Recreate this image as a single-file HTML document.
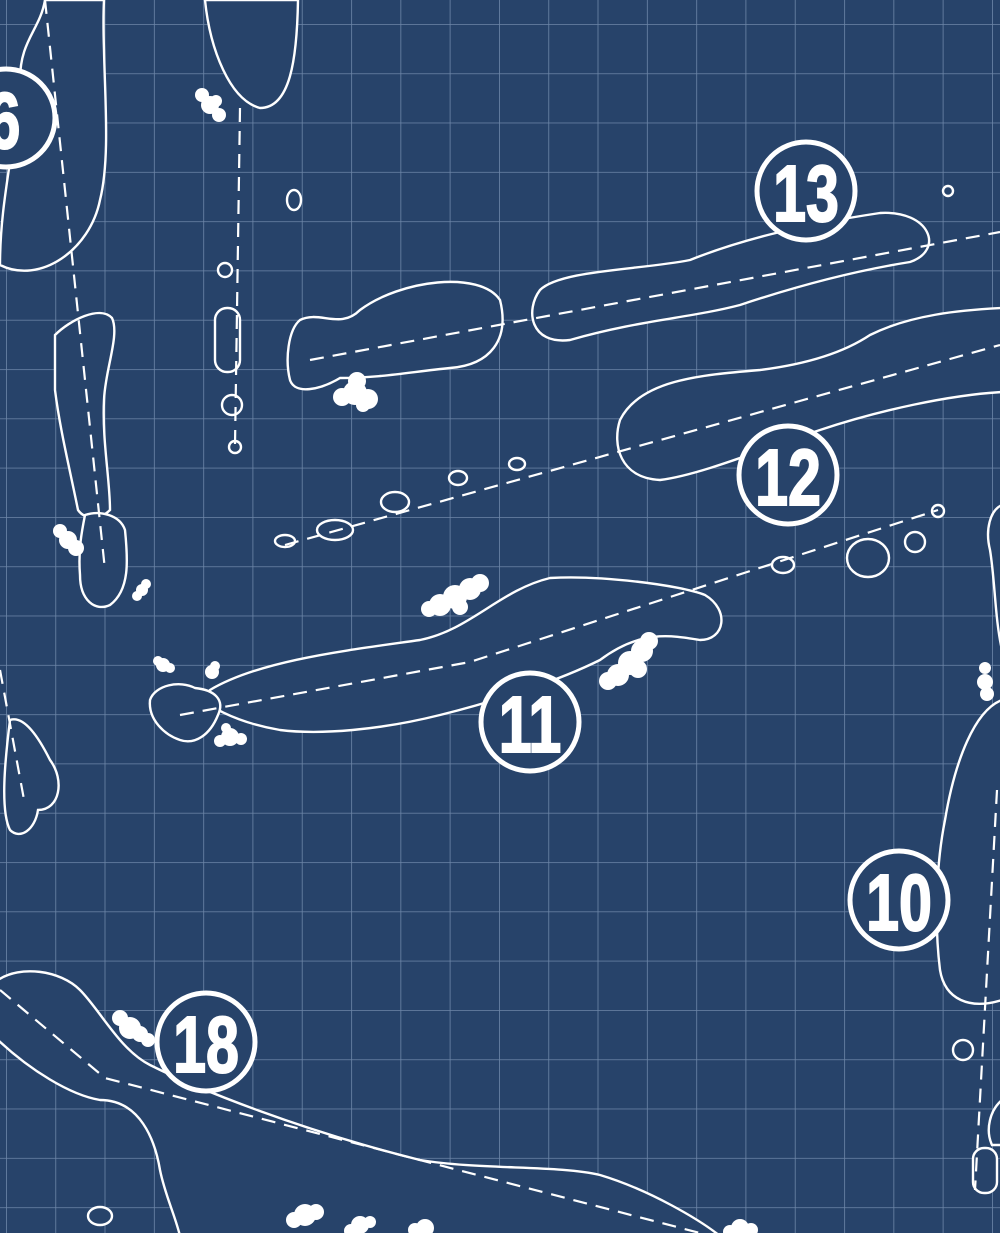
<!DOCTYPE html>
<html><head><meta charset="utf-8"><style>
html,body{margin:0;padding:0;background:#27436a;}
svg{display:block}
.num{font-family:"Liberation Sans",sans-serif;font-weight:bold;fill:#fff;stroke:#fff;stroke-width:2;}
</style></head><body>
<svg width="1000" height="1233" viewBox="0 0 1000 1233" xmlns="http://www.w3.org/2000/svg">
<defs>
<pattern id="g" x="6" y="24" width="49.3" height="49.3" patternUnits="userSpaceOnUse">
<path d="M0 0H49.3M0 0V49.3" stroke="#6d86a8" stroke-width="1.6" fill="none"/>
</pattern>
</defs>
<rect width="1000" height="1233" fill="#27436a"/>
<rect width="1000" height="1233" fill="url(#g)"/>

<g fill="#27436a" stroke="#fff" stroke-width="2.4">
<path d="M45,0 C40,30 20,40 20,80 C15,150 0,200 0,265 C40,285 90,250 100,200 C110,160 105,100 104,50 C103,20 104,0 104,0 Z"/>
<path d="M55,335 C70,320 100,305 112,318 C120,335 105,370 104,400 C102,440 110,480 110,510 C100,520 85,520 78,510 C70,470 60,430 55,390 Z"/>
<path d="M85,515 C100,510 120,515 125,530 C128,560 130,590 110,605 C95,612 80,600 80,575 C78,550 82,530 85,515 Z"/>
<path d="M205,0 C210,50 230,100 260,108 C290,108 297,60 298,0 Z"/>
<rect x="215" y="308" width="25" height="64" rx="12"/>
<ellipse cx="225" cy="270" rx="7" ry="7"/>
<ellipse cx="232" cy="405" rx="10" ry="10"/>
<ellipse cx="235" cy="447" rx="6" ry="6"/>
<ellipse cx="294" cy="200" rx="7" ry="10"/>
<path d="M540,290 C560,270 640,270 690,260 C740,240 800,225 880,213 C930,210 945,250 910,262 C860,270 800,285 740,305 C690,318 640,320 570,340 C530,345 525,310 540,290 Z"/>
<path d="M300,320 C320,310 340,330 360,310 C400,280 480,270 500,300 C510,340 490,365 450,368 C410,372 380,378 340,378 C320,390 295,395 290,380 C285,360 288,330 300,320 Z"/>
<path d="M620,420 C640,380 700,375 760,370 C800,365 840,355 870,335 C910,315 960,310 1002,308 L1002,392 C950,395 880,410 820,430 C760,450 700,475 660,480 C620,478 612,445 620,420 Z"/>
<ellipse cx="285" cy="541" rx="10" ry="6"/>
<ellipse cx="335" cy="530" rx="18" ry="10"/>
<ellipse cx="395" cy="502" rx="14" ry="10"/>
<ellipse cx="458" cy="478" rx="9" ry="7"/>
<ellipse cx="517" cy="464" rx="8" ry="6"/>
<ellipse cx="948" cy="191" rx="5" ry="5"/>
<path d="M210,690 C260,660 350,650 420,640 C470,630 500,590 550,578 C600,575 680,585 705,595 C730,610 725,640 700,640 C670,635 640,630 600,660 C560,680 500,700 440,715 C380,730 320,735 280,730 C250,725 225,715 210,705 Z"/>
<path d="M150,700 C155,685 180,680 195,688 C215,690 225,700 218,715 C210,735 195,745 180,740 C165,735 148,720 150,700 Z"/>
<ellipse cx="783" cy="565" rx="11" ry="8"/>
<ellipse cx="868" cy="558" rx="21" ry="19"/>
<ellipse cx="915" cy="542" rx="10" ry="10"/>
<ellipse cx="938" cy="511" rx="6" ry="6"/>
<path d="M1002,700 C975,710 955,760 945,820 C935,870 935,930 940,970 C945,1000 970,1010 1002,1000 Z"/>
<path d="M1002,505 C990,510 985,530 990,550 C995,580 995,620 1002,650 Z"/>
<ellipse cx="963" cy="1050" rx="10" ry="10"/>
<rect x="973" y="1148" width="24" height="45" rx="11"/>
<path d="M1002,1100 C990,1110 985,1130 992,1145 L1002,1145 Z"/>
<path d="M10,720 C25,715 40,740 50,760 C65,780 60,810 38,810 C35,830 20,840 10,830 C0,810 5,760 10,720 Z"/>
<path d="M-2,980 C20,965 60,970 80,990 C100,1010 120,1050 150,1065 C200,1090 300,1130 420,1160 C480,1170 560,1165 600,1175 C650,1190 700,1220 720,1236 L180,1236 C175,1215 165,1195 160,1170 C155,1140 140,1100 100,1100 C70,1095 30,1070 -2,1040 Z"/>
<ellipse cx="100" cy="1216" rx="12" ry="9"/>
</g>

<g fill="none" stroke="#fff" stroke-width="2.2" stroke-dasharray="14,9">
<path d="M45,0 L105,570"/>
<path d="M240,108 L235,445"/>
<path d="M310,360 L1000,232"/>
<path d="M285,545 L1000,345"/>
<path d="M180,715 L470,662 L938,510"/>
<path d="M997,790 L975,1190"/>
<path d="M0,990 L105,1078 L700,1233"/>
<path d="M0,670 L25,805"/>
</g>

<g fill="#fff">
<g transform="translate(210,105)"><circle r="9"/><circle cx="-8" cy="-10" r="7"/><circle cx="9" cy="10" r="7"/><circle cx="6" cy="-4" r="6"/></g>
<g transform="translate(355,393)"><circle r="12"/><circle cx="-13" cy="4" r="9"/><circle cx="13" cy="6" r="10"/><circle cx="2" cy="-12" r="9"/><circle cx="8" cy="12" r="7"/></g>
<g transform="translate(68,540)"><circle r="9"/><circle cx="-8" cy="-9" r="7"/><circle cx="8" cy="8" r="8"/></g>
<g transform="translate(142,590)"><circle r="6"/><circle cx="-5" cy="6" r="5"/><circle cx="4" cy="-6" r="5"/></g>
<g transform="translate(455,597)"><circle r="12"/><circle cx="-15" cy="8" r="11"/><circle cx="15" cy="-8" r="11"/><circle cx="25" cy="-14" r="9"/><circle cx="-26" cy="12" r="8"/><circle cx="5" cy="10" r="8"/></g>
<g transform="translate(630,663)"><circle r="12"/><circle cx="-12" cy="12" r="11"/><circle cx="12" cy="-12" r="11"/><circle cx="19" cy="-22" r="9"/><circle cx="-22" cy="18" r="9"/><circle cx="8" cy="6" r="9"/></g>
<g transform="translate(163,665)"><circle r="7"/><circle cx="-5" cy="-4" r="5"/><circle cx="7" cy="3" r="5"/></g>
<g transform="translate(212,672)"><circle r="7"/><circle cx="3" cy="-6" r="5"/></g>
<g transform="translate(230,737)"><circle r="9"/><circle cx="-10" cy="4" r="6"/><circle cx="11" cy="2" r="6"/><circle cx="-4" cy="-9" r="5"/></g>
<g transform="translate(130,1028)"><circle r="11"/><circle cx="-10" cy="-10" r="8"/><circle cx="10" cy="6" r="8"/><circle cx="18" cy="12" r="7"/></g>
<g transform="translate(985,682)"><circle r="8"/><circle cx="0" cy="-14" r="6"/><circle cx="2" cy="12" r="7"/></g>
<g transform="translate(305,1215)"><circle r="11"/><circle cx="-11" cy="5" r="8"/><circle cx="11" cy="-3" r="8"/></g>
<g transform="translate(360,1225)"><circle r="9"/><circle cx="-9" cy="6" r="7"/><circle cx="10" cy="-3" r="6"/></g>
<g transform="translate(425,1228)"><circle r="9"/><circle cx="-10" cy="2" r="7"/></g>
<g transform="translate(740,1228)"><circle r="9"/><circle cx="-10" cy="4" r="7"/><circle cx="11" cy="2" r="7"/></g>
</g>

<g fill="#27436a" stroke="#fff" stroke-width="5">
<circle cx="806" cy="191" r="49"/>
<circle cx="788" cy="475" r="49"/>
<circle cx="530" cy="722" r="49"/>
<circle cx="899" cy="900" r="49"/>
<circle cx="206" cy="1042" r="49"/>
<circle cx="6" cy="118" r="49"/>
</g>
<g class="num" font-size="80" text-anchor="middle">
<text transform="translate(806,221) scale(0.74,1)">13</text>
<text transform="translate(788,505) scale(0.74,1)">12</text>
<text transform="translate(530,752) scale(0.74,1)">11</text>
<text transform="translate(899,930) scale(0.74,1)">10</text>
<text transform="translate(206,1072) scale(0.74,1)">18</text>
<text transform="translate(4,148) scale(0.74,1)">6</text>
</g>
</svg>
</body></html>
